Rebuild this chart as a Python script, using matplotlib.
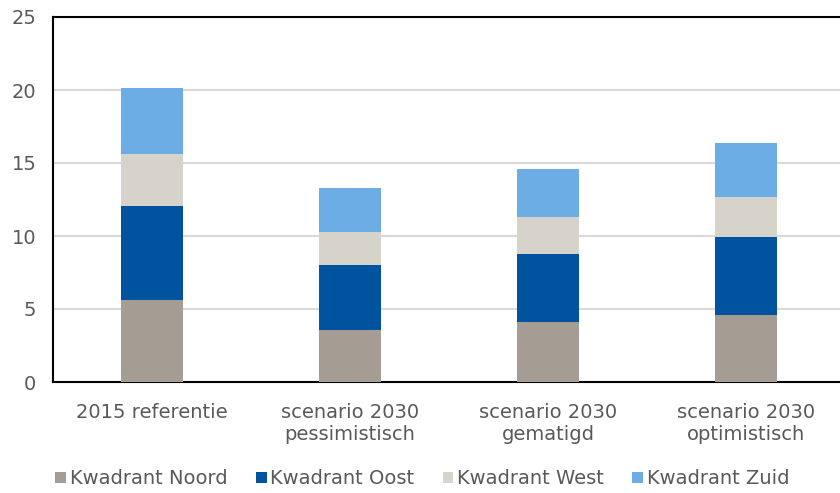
import matplotlib
matplotlib.use("Agg")
import matplotlib.pyplot as plt
import numpy as np

categories = ["2015 referentie", "scenario 2030\npessimistisch", "scenario 2030\ngematigd", "scenario 2030\noptimistisch"]
noord = [5.61, 3.57, 4.08, 4.58]
oost = [6.42, 4.43, 4.68, 5.32]
west = [3.57, 2.29, 2.54, 2.79]
zuid = [4.56, 3.02, 3.30, 3.67]

series = [("Kwadrant Noord", noord, "#A59C94"),
          ("Kwadrant Oost", oost, "#00539F"),
          ("Kwadrant West", west, "#D6D3CB"),
          ("Kwadrant Zuid", zuid, "#6BADE4")]

plt.rcParams["font.family"] = "DejaVu Sans"
fig = plt.figure(figsize=(8.4, 4.93), dpi=100)
ax = fig.add_axes([53 / 840, 1 - 382 / 493, 792 / 840, 365 / 493])

x = np.arange(len(categories))
bottom = np.zeros(len(categories))
for name, vals, col in series:
    ax.bar(x, vals, 0.318, bottom=bottom, color=col, label=name, zorder=3)
    bottom += np.array(vals)

ax.set_xlim(-0.5, 3.5)
ax.set_ylim(0, 25)
ax.set_yticks(range(0, 26, 5))
ax.set_xticks(x)
ax.set_xticklabels(categories)
ax.yaxis.grid(True, color="#D9D9D9", linewidth=1.5, zorder=0)
ax.tick_params(axis="both", length=0, labelsize=14, colors="#595959")
ax.tick_params(axis="x", pad=15)
ax.tick_params(axis="y", pad=12)
for s in ["left", "top", "bottom"]:
    ax.spines[s].set_linewidth(1.5)
    ax.spines[s].set_color("black")
ax.spines["right"].set_visible(False)

leg = fig.legend(loc="center", bbox_to_anchor=(0.503, 1 - 479 / 493), ncol=4, frameon=False,
                 fontsize=14, handlelength=0.55, handleheight=0.55, handletextpad=0.2,
                 columnspacing=1.45, labelcolor="#595959")

fig.savefig("out.png", dpi=100)
